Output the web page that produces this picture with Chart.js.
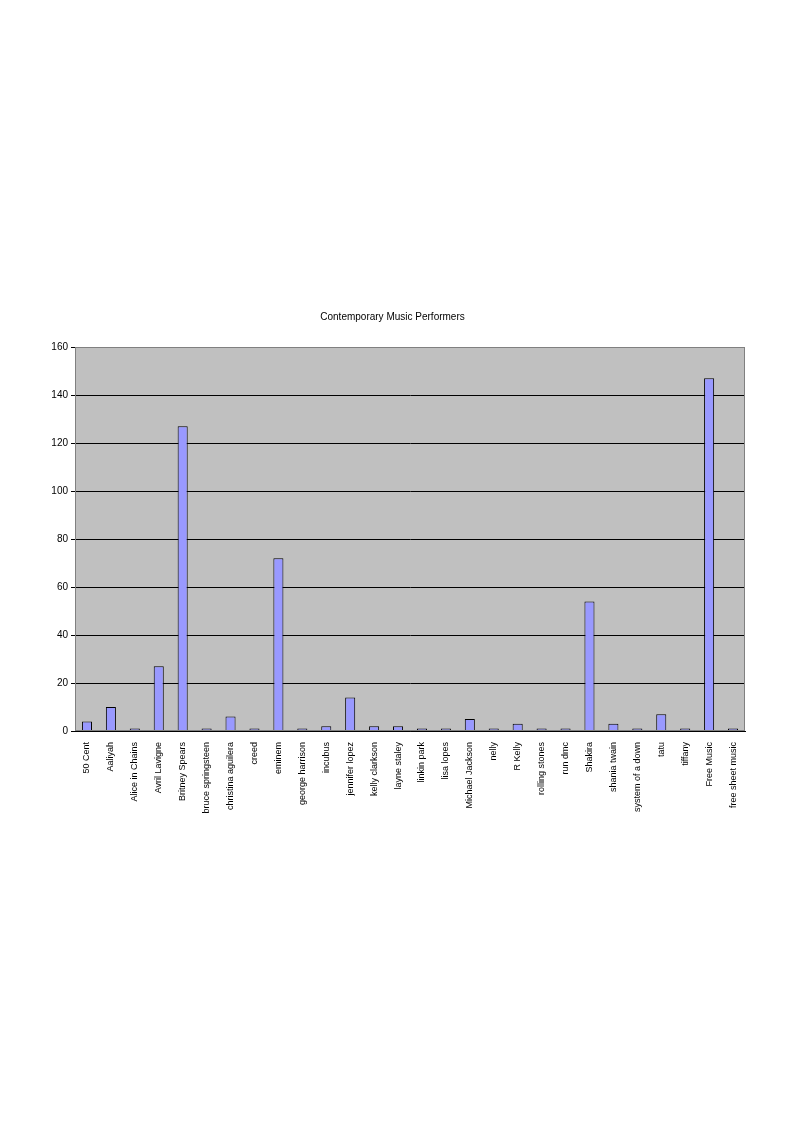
<!DOCTYPE html>
<html><head><meta charset="utf-8">
<script src="https://cdn.jsdelivr.net/npm/chart.js@4"></script>
<style>html,body{margin:0;padding:0;background:#fff}#w{position:absolute;left:0;top:0;width:794px;height:1123px}</style>
</head><body><div id="w"><canvas id="c"></canvas></div>
<script>
const categories = ["50 Cent","Aaliyah","Alice in Chains","Avril Lavigne","Britney Spears","bruce springsteen","christina aguilera","creed","eminem","george harrison","incubus","jennifer lopez","kelly clarkson","layne staley","linkin park","lisa lopes","Michael Jackson","nelly","R Kelly","rolling stones","run dmc","Shakira","shania twain","system of a down","tatu","tiffany","Free Music","free sheet music"];
const values = [4,10,1,27,127,1,6,1,72,1,2,14,2,2,1,1,5,1,3,1,1,54,3,1,7,1,147,1];
const yTicks = [0,20,40,60,80,100,120,140,160];
const font = {family:"'Liberation Sans', Arial, sans-serif", size:10, weight:'normal'};
const xfont = {family:"'Liberation Sans', Arial, sans-serif", size:9, weight:'normal'};
Chart.defaults.font = font; Chart.defaults.color = '#000';
const bg = {id:'bg', beforeDraw(ch){const a=ch.chartArea,x=ch.ctx;x.save();x.fillStyle='#c0c0c0';x.fillRect(a.left,a.top,a.right-a.left,a.bottom-a.top);x.restore();},
 afterDraw(ch){const a=ch.chartArea,x=ch.ctx;x.save();x.strokeStyle='#808080';x.lineWidth=1;x.strokeRect(a.left+0.5,a.top+0.5,a.right-a.left-1,a.bottom-a.top-1);x.restore();}};
new Chart(document.getElementById('c'),{type:'bar',
 plugins:[bg],
 data:{labels:categories,datasets:[{data:values,backgroundColor:'#9999ff',borderColor:'#000',borderWidth:1,barPercentage:0.42,categoryPercentage:1}]},
 options:{responsive:true,maintainAspectRatio:false,animation:false,
  layout:{padding:{left:40,right:49,top:311,bottom:300}},
  plugins:{legend:{display:false},tooltip:{enabled:false},
   title:{display:true,text:'Contemporary Music Performers',font:font,padding:{top:0,bottom:24},color:'#000'}},
  scales:{
   x:{grid:{display:false,drawTicks:true},border:{color:'#000'},ticks:{maxRotation:90,minRotation:90,autoSkip:false,font:xfont},afterFit(s){s.height=92;}},
   y:{min:0,max:160,afterBuildTicks(s){s.ticks=yTicks.map(v=>({value:v}));},grid:{color:'#000',tickLength:4},border:{color:'#000'},ticks:{font:font,padding:3},afterFit(s){s.width=35;}}
  }}});
</script></body></html>
